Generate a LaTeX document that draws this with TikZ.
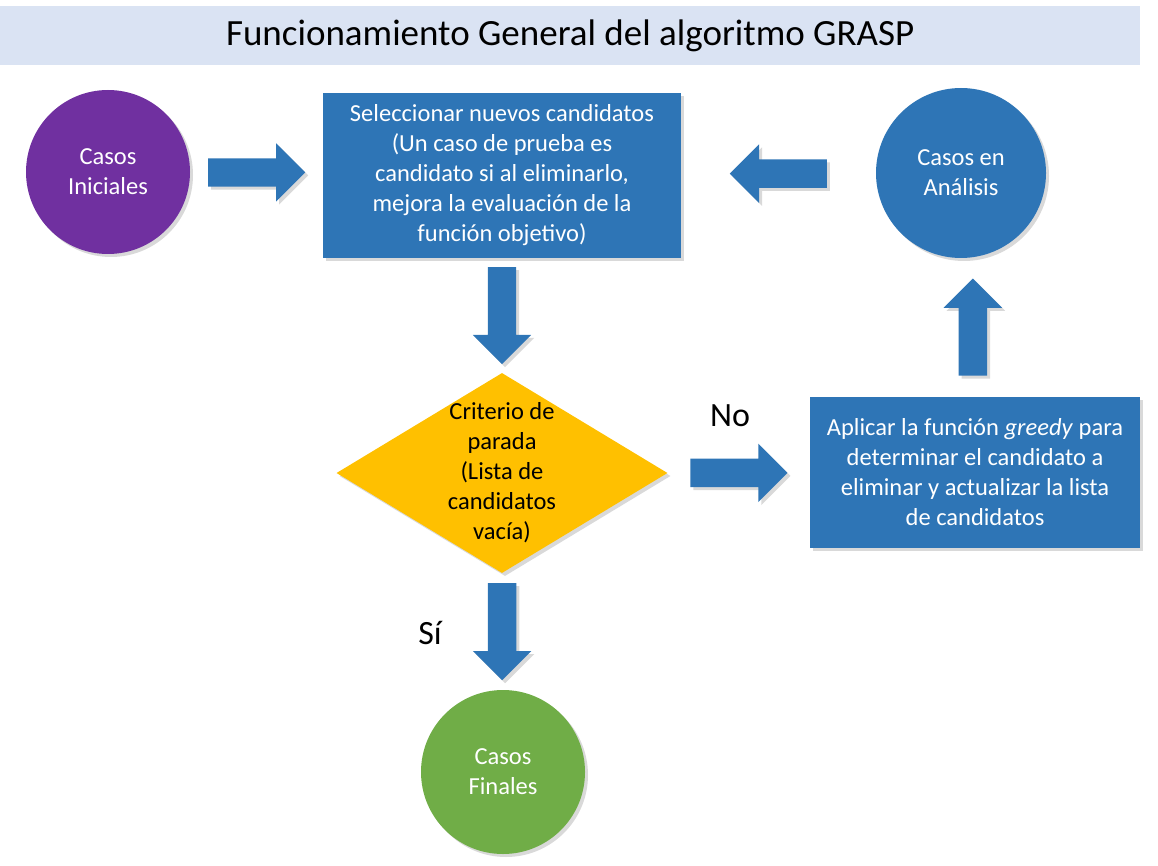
\documentclass[tikz,border=0pt]{standalone}
\usepackage{fontspec}
\setmainfont{Carlito}
\usetikzlibrary{calc,shapes.geometric,shapes.arrows,shadows}

\definecolor{titlebg}{HTML}{DAE3F3}
\definecolor{boxblue}{HTML}{2E75B6}
\definecolor{casepurple}{HTML}{7030A0}
\definecolor{casegreen}{HTML}{70AD47}
\definecolor{stopyellow}{HTML}{FFC000}

\tikzset{
  softshadow/.style={drop shadow={shadow xshift=3pt,shadow yshift=-3pt,opacity=0.3}},
  bodyfont/.style={font=\fontsize{24.5}{30}\selectfont},
  casecircle/.style={circle,minimum size=164pt,inner sep=0pt,text=white,align=center,bodyfont,softshadow},
  procbox/.style={rectangle,fill=boxblue,inner sep=0pt,text=white,align=center,bodyfont,softshadow},
  blockarrow/.style={single arrow,fill=boxblue,draw=none,inner sep=0pt,text height=28pt,text depth=0pt,
    minimum height=97pt,single arrow head extend=15pt,anchor=tail,softshadow},
  answer/.style={font=\fontsize{34}{40}\selectfont}
}

\begin{document}
\begin{tikzpicture}[x=1pt,y=-1pt]
  \useasboundingbox (0,0) rectangle (1158,866);
  % title bar
  \node[fill=titlebg,minimum width=1140pt,minimum height=59pt,inner sep=0pt,anchor=north west,
    font=\fontsize{37}{42}\selectfont] (title) at (0,6) {Funcionamiento General del algoritmo GRASP};

  % main shapes
  \node[casecircle,fill=casepurple] (ini) at (108,172) {Casos\\Iniciales};
  \node[procbox,minimum width=358pt,minimum height=165pt] (sel) at (502,175.5)
    {Seleccionar nuevos candidatos\\(Un caso de prueba es\\candidato si al eliminarlo,\\mejora la evaluación de la\\función objetivo)};
  \node[casecircle,fill=boxblue,minimum size=170pt] (ana) at (961,173) {Casos en\\Análisis};
  \node[diamond,fill=stopyellow,minimum width=331pt,minimum height=200pt,inner sep=0pt,softshadow] (stop) at (502,473) {};
  \node[align=center,bodyfont] (stoptext) at (stop.center) {Criterio de\\parada\\(Lista de\\candidatos\\vacía)};
  \node[procbox,minimum width=330pt,minimum height=151pt] (greedy) at (975,472.5)
    {Aplicar la función \textit{greedy} para\\determinar el candidato a\\eliminar y actualizar la lista\\de candidatos};
  \node[casecircle,fill=casegreen] (fin) at (503,772) {Casos\\Finales};

  % block arrows, tail half a length back from the middle of the gap
  \node[blockarrow] (a1) at ($(ini.east)!0.5!(sel.west)!48.5pt!(ini.east)$) {};
  \node[blockarrow,rotate=180] (a2) at ($(ana.west)!0.5!(sel.east)!48.5pt!(ana.west)$) {};
  \node[blockarrow,rotate=-90] (a3) at ($(sel.south)!0.5!(stop.north)!48.5pt!(sel.south)$) {};
  \node[blockarrow] (a4) at ($(stop.east)!0.5!(greedy.west)!48.5pt!(stop.east)$) {};
  \node[blockarrow,rotate=90] (a5) at ($(greedy.north)!0.5!(ana.south)!48.5pt!(greedy.north)$) {};
  \node[blockarrow,rotate=-90] (a6) at ($(stop.south)!0.5!(fin.north)!48.5pt!(stop.south)$) {};

  % answers
  \node[answer] (no) at (730,416) {No};
  \node[answer] (si) at (430,633) {Sí};
\end{tikzpicture}
\end{document}
